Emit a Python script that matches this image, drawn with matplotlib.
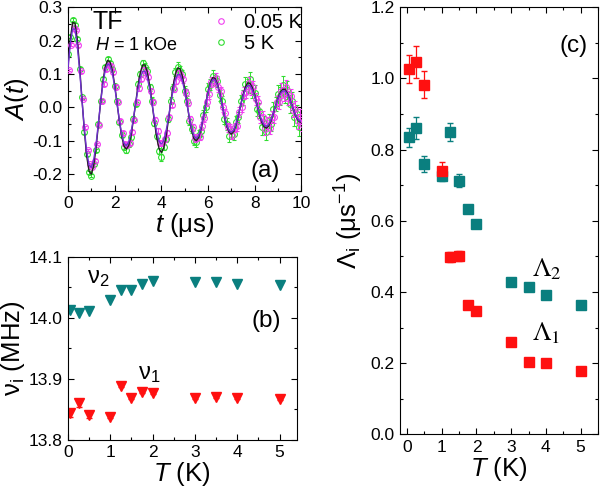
import numpy as np
import matplotlib.pyplot as plt
from matplotlib.ticker import MultipleLocator

plt.rcParams['font.family'] = ['Liberation Sans', 'DejaVu Sans']
plt.rcParams['mathtext.fontset'] = 'custom'
plt.rcParams['mathtext.rm'] = 'Liberation Sans'
plt.rcParams['mathtext.it'] = 'Liberation Sans:italic'
plt.rcParams['mathtext.bf'] = 'Liberation Sans:bold'

# (a) TF asymmetry spectra, 0.1 us bins
t_bin = 0.1
fit_low = [.115, .190, .235, .234, .184, .110, .022, -.063, -.131, -.172, -.180, -.158, -.112, -.049, .016,
           .073, .113, .130, .126, .103, .062, .013, -.037, -.080, -.107, -.115, -.104, -.076, -.035, .012,
           .055, .089, .108, .108, .089, .055, .012, -.034, -.074, -.101, -.110, -.100, -.072, -.033, .011,
           .052, .083, .098, .098, .080, .049, .010, -.030, -.064, -.086, -.093, -.084, -.061, -.028, .009,
           .044, .070, .083, .082, .067, .041, .008, -.024, -.052, -.069, -.075, -.068, -.049, -.022, .007,
           .034, .054, .065, .065, .052, .032, .007, -.019, -.039, -.053, -.057, -.051, -.037, -.017, .006,
           .026, .041, .049, .049, .040, .024, .005, -.014, -.030, -.040, -.042]
fit_high = [.125, .206, .254, .252, .202, .120, .024, -.069, -.145, -.190, -.200, -.175, -.123, -.054, .018,
            .080, .123, .141, .136, .111, .068, .014, -.040, -.086, -.116, -.125, -.115, -.085, -.039, .013,
            .065, .105, .127, .127, .106, .066, .014, -.041, -.090, -.123, -.135, -.122, -.088, -.040, .013,
            .062, .100, .118, .116, .094, .057, .012, -.033, -.070, -.094, -.100, -.090, -.065, -.030, .010,
            .047, .074, .089, .087, .071, .044, .009, -.026, -.056, -.074, -.080, -.072, -.053, -.024, .008,
            .038, .061, .073, .072, .059, .036, .007, -.021, -.044, -.058, -.062, -.056, -.040, -.018, .006,
            .029, .045, .054, .054, .043, .026, .005, -.015, -.032, -.042, -.045]
a_low = [.112, .188, .238, .232, .186, .108, .025, -.060, -.128, -.170, -.178, -.160, -.110, -.052, .018,
         .070, .116, .128, .124, .106, .060, .016, -.040, -.078, -.110, -.112, -.106, -.073, -.038, .015,
         .058, .086, .112, .104, .092, .050, .015, -.038, -.070, -.106, -.108, -.096, -.076, -.030, .008,
         .056, .080, .102, .094, .084, .044, .014, -.036, -.060, -.092, -.090, -.088, -.056, -.032, .015,
         .040, .076, .078, .088, .060, .048, .000, -.018, -.060, -.064, -.082, -.060, -.056, -.014, .000,
         .042, .046, .074, .056, .060, .024, .015, -.030, -.030, -.064, -.048, -.062, -.028, -.028, .016,
         .016, .050, .040, .060, .028, .034, -.008, -.004, -.042, -.028, -.050]
a_high = [.160, .212, .262, .248, .206, .116, .030, -.074, -.140, -.194, -.205, -.170, -.128, -.050, .020,
          .084, .120, .144, .132, .114, .064, .018, -.044, -.082, -.120, -.128, -.110, -.090, -.034, .010,
          .070, .100, .133, .122, .110, .060, .020, -.046, -.086, -.130, -.150, -.118, -.094, -.034, .020,
          .058, .106, .122, .110, .100, .050, .020, -.040, -.064, -.100, -.105, -.082, -.072, -.022, .000,
          .055, .068, .095, .080, .078, .036, .018, -.034, -.050, -.086, -.072, -.080, -.044, -.030, .020,
          .030, .070, .064, .084, .050, .044, -.005, -.010, -.060, -.048, -.075, -.040, -.050, -.005, .010,
          .040, .034, .066, .040, .052, .010, .020, -.030, -.020, -.060, -.040]
err_period = [0.004, 0.006, 0.008, 0.011, 0.014, 0.018, 0.022]

# (b) frequencies
T_nu = [0.05, 0.25, 0.5, 1.0, 1.25, 1.5, 1.75, 2.0, 3.0, 3.5, 4.0, 5.0]
nu1 = [13.844, 13.860, 13.840, 13.838, 13.888, 13.868, 13.878, 13.877, 13.868, 13.870, 13.869, 13.867]
nu1_err = [0.006, 0.007, 0.005, 0.003, 0.002, 0.002, 0.002, 0.002, 0.002, 0.002, 0.002, 0.002]
nu2 = [14.012, 14.007, 14.011, 14.029, 14.045, 14.045, 14.056, 14.060, 14.058, 14.058, 14.056, 14.053]

# (c) relaxation rates
T_lam = [0.05, 0.25, 0.5, 1.0, 1.25, 1.5, 1.75, 2.0, 3.0, 3.5, 4.0, 5.0]
lam1 = [1.026, 1.045, 0.982, 0.739, 0.498, 0.501, 0.362, 0.347, 0.258, 0.203, 0.199, 0.178]
lam1_err = [0.040, 0.045, 0.038, 0.025, 0.015, 0.015, 0.005, 0.005, 0.004, 0.004, 0.004, 0.004]
lam2 = [0.834, 0.861, 0.760, 0.727, 0.850, 0.713, 0.632, 0.590, 0.427, 0.415, 0.390, 0.362]
lam2_err = [0.028, 0.030, 0.022, 0.015, 0.025, 0.018, 0.010, 0.010, 0.004, 0.004, 0.004, 0.004]

red = '#ff1010'
teal = '#0a7f7f'
magenta = '#f040f0'
green = '#30dd30'

fig = plt.figure(figsize=(6, 4.92), dpi=100)
ax_a = fig.add_axes([0.1133, 0.612, 0.389, 0.3735])
ax_b = fig.add_axes([0.1133, 0.1063, 0.381, 0.372])
ax_c = fig.add_axes([0.6667, 0.1173, 0.33, 0.868])


def style(ax):
    ax.tick_params(which='both', direction='in', top=True, right=True, labelsize=12.5)
    ax.tick_params(which='major', length=4.5, width=0.8, pad=4)
    ax.tick_params(which='minor', length=2.5, width=0.8)
    for s in ax.spines.values():
        s.set_linewidth(0.8)


# panel (a)
t = np.arange(len(a_low)) * t_bin
err = np.repeat(err_period, 15)[:len(a_low)]
ax_a.errorbar(t, a_high, yerr=err * 1.2, fmt='o', ms=4.2, mfc='none', mec=green, mew=0.8,
              ecolor=green, elinewidth=0.7, capsize=1.5, zorder=2)
ax_a.errorbar(t + 0.04, a_low, yerr=err, fmt='o', ms=4.2, mfc='none', mec=magenta, mew=0.8,
              ecolor=magenta, elinewidth=0.7, capsize=1.5, zorder=3)
ax_a.plot(t, fit_high, color='#202020', lw=1.0, zorder=4)
ax_a.plot(t, fit_low, color='#7030d0', lw=1.0, zorder=5)
ax_a.plot([], [], 'o', ms=4, mfc='none', mec=magenta, mew=0.8, label='0.05 K')
ax_a.plot([], [], 'o', ms=4, mfc='none', mec=green, mew=0.8, label='5 K')
ax_a.legend(loc='upper left', frameon=False, fontsize=14.5, handlelength=0.5,
            handletextpad=0.9, borderaxespad=0.0, labelspacing=0.1,
            bbox_to_anchor=(0.6, 1.01))
ax_a.set_xlim(0, 10)
ax_a.set_ylim(-0.25, 0.3)
ax_a.xaxis.set_major_locator(MultipleLocator(2))
ax_a.xaxis.set_minor_locator(MultipleLocator(1))
ax_a.yaxis.set_major_locator(MultipleLocator(0.1))
ax_a.yaxis.set_minor_locator(MultipleLocator(0.05))
ax_a.yaxis.set_major_formatter(plt.FuncFormatter(lambda v, p: f'{v:.1f}'.replace('-0.0', '0.0')))
style(ax_a)
ax_a.set_xlabel('$t$ (μs)', fontsize=18.5, labelpad=0)
ax_a.set_ylabel('$A$($t$)', fontsize=18.5, labelpad=1)
ax_a.text(0.105, 0.985, 'TF', transform=ax_a.transAxes, fontsize=18, va='top')
ax_a.text(0.115, 0.79, '$H$ = 1 kOe', transform=ax_a.transAxes, fontsize=13, va='center')
ax_a.text(0.91, 0.11, '(a)', transform=ax_a.transAxes, fontsize=17.5, ha='right', va='center')

# panel (b)
ax_b.plot(T_nu, nu2, 'v', color=teal, ms=7.5)
ax_b.errorbar(T_nu, nu1, yerr=nu1_err, fmt='v', color=red, ms=7.5, capsize=2, elinewidth=0.8)
ax_b.set_xlim(0, 5.4)
ax_b.set_ylim(13.8, 14.1)
ax_b.xaxis.set_major_locator(MultipleLocator(1))
ax_b.xaxis.set_minor_locator(MultipleLocator(0.5))
ax_b.yaxis.set_major_locator(MultipleLocator(0.1))
ax_b.yaxis.set_minor_locator(MultipleLocator(0.05))
ax_b.yaxis.set_major_formatter(plt.FuncFormatter(lambda v, p: f'{v:.1f}'))
style(ax_b)
ax_b.set_xlabel('$T$ (K)', fontsize=18.5, labelpad=0)
ax_b.set_ylabel(r'ν$_\mathrm{i}$ (MHz)', fontsize=18.5, labelpad=1)
ax_b.text(0.45, 14.083, r'ν$_\mathrm{2}$', fontsize=17, va='top')
ax_b.text(1.65, 13.925, r'ν$_\mathrm{1}$', fontsize=17, va='top')
ax_b.text(0.93, 0.65, '(b)', transform=ax_b.transAxes, fontsize=17.5, ha='right', va='center')

# panel (c)
ax_c.errorbar(T_lam, lam2, yerr=lam2_err, fmt='s', color=teal, ms=7.5, capsize=2.5, elinewidth=0.9)
ax_c.errorbar(T_lam, lam1, yerr=lam1_err, fmt='s', color=red, ms=7.5, capsize=2.5, elinewidth=0.9)
ax_c.set_xlim(-0.2, 5.5)
ax_c.set_ylim(0, 1.2)
ax_c.xaxis.set_major_locator(MultipleLocator(1))
ax_c.xaxis.set_minor_locator(MultipleLocator(0.5))
ax_c.yaxis.set_major_locator(MultipleLocator(0.2))
ax_c.yaxis.set_minor_locator(MultipleLocator(0.1))
ax_c.yaxis.set_major_formatter(plt.FuncFormatter(lambda v, p: f'{v:.1f}'))
style(ax_c)
ax_c.set_xlabel('$T$ (K)', fontsize=18.5, labelpad=0)
ax_c.set_ylabel(r'Λ$_\mathrm{i}$ (μs$^\mathrm{-1}$)', fontsize=18.5, labelpad=4)
ax_c.text(3.6, 0.445, r'$\Lambda_2$', fontsize=19, math_fontfamily='stix')
ax_c.text(3.6, 0.265, r'$\Lambda_1$', fontsize=19, math_fontfamily='stix')
ax_c.text(0.95, 0.91, '(c)', transform=ax_c.transAxes, fontsize=17.5, ha='right', va='center')

plt.savefig('out.png', dpi=100)
